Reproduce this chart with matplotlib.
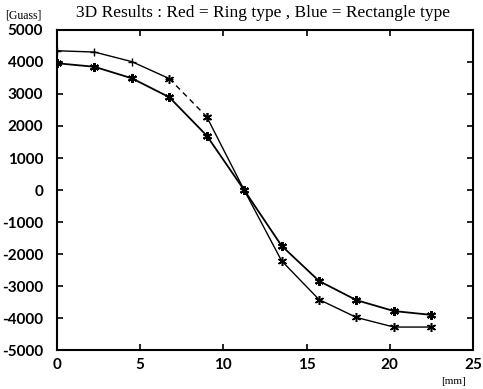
import matplotlib
matplotlib.use("Agg")
import matplotlib.pyplot as plt

# Data
x_mm = [0, 2.25, 4.5, 6.75, 9, 11.25, 13.5, 15.75, 18, 20.25, 22.5]
ring = [4350, 4310, 4010, 3480, 2290, 0, -2210, -3420, -3980, -4280, -4280]
rect = [3960, 3850, 3490, 2900, 1700, 0, -1740, -2840, -3440, -3780, -3900]
x_ticks = [0, 5, 10, 15, 20, 25]
y_ticks = [-5000, -4000, -3000, -2000, -1000, 0, 1000, 2000, 3000, 4000, 5000]
title = "3D Results : Red = Ring type , Blue = Rectangle type"

fig = plt.figure(figsize=(4.83, 3.89), dpi=100)
ax = fig.add_axes([0.118, 0.100, 0.861, 0.823])

ast = (6, 2, 0)
# ring series: dashed segment between 4th and 5th points
ax.plot(x_mm[:4], ring[:4], color="black", lw=1.0, marker="+", ms=6, mew=1.0)
ax.plot(x_mm[3:5], ring[3:5], color="black", lw=1.0, ls=(0, (4, 3)))
ax.plot(x_mm[4:], ring[4:], color="black", lw=1.0, marker=ast, ms=6.5, mew=1.1)
ax.plot(x_mm[3:5], ring[3:5], ls="none", color="black", marker=ast, ms=6.5, mew=1.0)
# rectangle series
ax.plot(x_mm, rect, color="black", lw=1.3, marker=ast, ms=6.5, mew=1.5)

ax.set_xlim(0, 25)
ax.set_ylim(-5000, 5000)
ax.set_xticks(x_ticks)
ax.set_yticks(y_ticks)
ax.set_xticklabels([str(v) for v in x_ticks])
ax.set_yticklabels([str(v) for v in y_ticks])
ax.tick_params(direction="in", top=True, right=True, length=4, width=1.2,
               labelsize=11)
ax.tick_params(axis="y", pad=10)
ax.tick_params(axis="x", pad=6)
for lab in ax.get_xticklabels() + ax.get_yticklabels():
    lab.set_fontfamily("Lato")
    lab.set_fontweight("bold")
for s in ax.spines.values():
    s.set_linewidth(1.5)

fig.text(0.545, 0.966, title, ha="center", va="center",
         fontsize=12.5, family="Liberation Serif")
fig.text(0.010, 0.960, "[Guass]", ha="left", va="center",
         fontsize=8.5, family="Liberation Serif")
fig.text(0.938, 0.018, "[mm]", ha="center", va="center",
         fontsize=8, family="Liberation Serif")

fig.savefig("out.png", dpi=100)
